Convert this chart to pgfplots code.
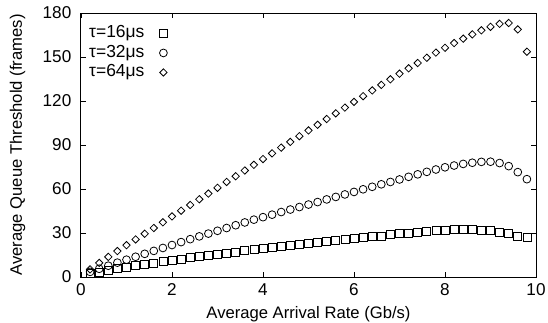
\documentclass[border=0pt]{standalone}
\usepackage{fontspec}
\setmainfont{Liberation Sans}
\usepackage{pgfplots}
\usepackage{pgfplotstable}
\pgfplotsset{compat=1.18}

\pgfplotstableread{
x y
0.2 2.3
0.4 3.4
0.6 4.5
0.8 5.6
1.0 6.6
1.2 7.6
1.4 8.6
1.6 9.6
1.8 10.5
2.0 11.4
2.2 12.3
2.4 13.2
2.6 14.0
2.8 14.8
3.0 15.6
3.2 16.3
3.4 17.0
3.6 17.8
3.8 18.5
4.0 19.2
4.2 19.9
4.4 20.6
4.6 21.3
4.8 22.0
5.0 22.7
5.2 23.4
5.4 24.0
5.6 24.7
5.8 25.4
6.0 26.0
6.2 26.7
6.4 27.4
6.6 28.0
6.8 28.8
7.0 29.4
7.2 30.0
7.4 30.6
7.6 31.1
7.8 31.5
8.0 31.9
8.2 32.2
8.4 32.3
8.6 32.3
8.8 32.1
9.0 31.6
9.2 30.6
9.4 29.4
9.6 28.0
9.8 26.8
}\tabA

\pgfplotstableread{
x y
0.2 3.5
0.4 5.6
0.6 7.7
0.8 9.8
1.0 11.8
1.2 13.8
1.4 15.8
1.6 17.8
1.8 19.8
2.0 21.8
2.2 23.8
2.4 25.8
2.6 27.7
2.8 29.6
3.0 31.5
3.2 33.4
3.4 35.3
3.6 37.2
3.8 39.1
4.0 40.8
4.2 42.5
4.4 44.3
4.6 46.0
4.8 47.7
5.0 49.4
5.2 51.1
5.4 52.9
5.6 54.6
5.8 56.3
6.0 58.0
6.2 59.8
6.4 61.5
6.6 63.2
6.8 64.8
7.0 66.5
7.2 68.3
7.4 70.0
7.6 71.7
7.8 73.3
8.0 74.8
8.2 76.0
8.4 77.1
8.6 77.9
8.8 78.5
9.0 78.6
9.2 77.7
9.4 75.6
9.6 71.5
9.8 66.7
}\tabB

\pgfplotstableread{
x y
0.2 5.2
0.4 9.6
0.6 13.7
0.8 17.7
1.0 21.7
1.2 25.6
1.4 29.5
1.6 33.4
1.8 37.3
2.0 41.3
2.2 45.2
2.4 49.1
2.6 53.0
2.8 56.9
3.0 60.8
3.2 64.8
3.4 68.7
3.6 72.6
3.8 76.5
4.0 80.4
4.2 84.3
4.4 88.2
4.6 92.1
4.8 96.0
5.0 99.9
5.2 103.8
5.4 107.7
5.6 111.6
5.8 115.5
6.0 119.4
6.2 123.3
6.4 127.2
6.6 131.0
6.8 134.8
7.0 138.6
7.2 142.3
7.4 145.9
7.6 149.5
7.8 153.0
8.0 156.3
8.2 159.5
8.4 162.5
8.6 165.4
8.8 168.2
9.0 170.6
9.2 172.6
9.4 173.2
9.6 168.8
9.8 153.6
}\tabC

\begin{document}
\begin{tikzpicture}
\begin{axis}[
  at={(0,0)}, anchor=south west,
  scale only axis, width=455bp, height=264bp,
  xmin=0, xmax=10, ymin=0, ymax=180,
  xtick={0,2,...,10}, ytick={0,30,...,180},
  tick align=inside, major tick length=5bp,
  tick style={line width=0.8bp, black},
  axis line style={line width=1bp},
  /pgf/number format/assume math mode=true,
  tick label style={font=\fontsize{17.2}{20}\selectfont},
  xticklabel style={anchor=base, inner sep=0pt, yshift=-18.5bp},
  yticklabel style={anchor=east, inner sep=0pt, xshift=-9.5bp},
  xlabel={Average Arrival Rate (Gb/s)},
  ylabel={Average Queue Threshold (frames)},
  label style={font=\fontsize{16.7}{20}\selectfont},
  xlabel style={at={(axis description cs:0.5,-0.1553)}, anchor=base, inner sep=0pt},
  ylabel style={at={(axis description cs:-0.1297,0.5)}, anchor=base, inner sep=0pt},
  legend plot pos=right,
  legend cell align=left,
  legend style={at={(axis description cs:0,1)}, anchor=north west, yshift=-8bp,
    draw=none, fill=none,
    font=\fontsize{17.5}{20}\selectfont, row sep=3bp, column sep=14bp,
    inner xsep=7bp, inner ysep=4bp,
    nodes={inner sep=1bp, text height=11.5bp, text depth=3bp}},
]
\addplot[only marks, mark=square, mark size=4bp, mark options={line width=0.8bp, black}] table[x=x,y=y]{\tabA};
\addlegendentry{τ=16μs}
\addplot[only marks, mark=o, mark size=3.9bp, mark options={line width=0.8bp, black}] table[x=x,y=y]{\tabB};
\addlegendentry{τ=32μs}
\addplot[only marks, mark=square, mark size=2.6bp, mark options={rotate=45, line width=0.8bp, black}] table[x=x,y=y]{\tabC};
\addlegendentry{τ=64μs}
\end{axis}
\pgfresetboundingbox
\path[use as bounding box] (-81bp,-46bp) rectangle (467bp,277bp);
\end{tikzpicture}
\end{document}
